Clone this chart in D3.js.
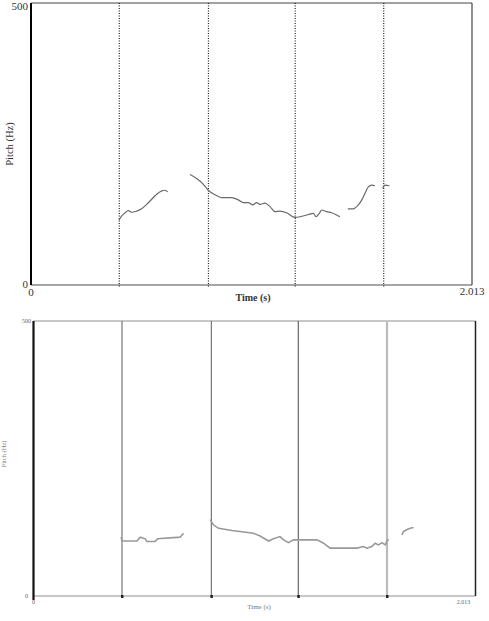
<!DOCTYPE html>
<html>
<head>
<meta charset="utf-8">
<script src="https://cdn.jsdelivr.net/npm/d3@7"></script>
<style>
  body { margin: 0; background: #fff; }
  svg text { font-family: "Liberation Serif", "DejaVu Serif", serif; }
</style>
</head>
<body>
<div id="chart"></div>
<script>
const W = 489, H = 621;
const tMax = 2.013, pMax = 500;

// segment boundaries (s)
const boundaries = [0.403, 0.810, 1.206, 1.610];

// top panel: smooth pitch contour, one array per voiced stretch
const topTimes = [
  [0.402, 0.406, 0.429, 0.444, 0.460, 0.482, 0.505, 0.528, 0.551, 0.574, 0.597, 0.612, 0.624],
  [0.726, 0.756, 0.786, 0.809, 0.840, 0.870, 0.916, 0.946, 0.969, 0.992, 1.012, 1.030, 1.045, 1.068, 1.091,
   1.114, 1.137, 1.167, 1.205, 1.228, 1.266, 1.289, 1.301, 1.316, 1.327, 1.350, 1.373, 1.395, 1.410],
  [1.446, 1.471, 1.494, 1.510, 1.525, 1.540, 1.555, 1.570],
  [1.605, 1.616, 1.636]
];
const topPitch = [
  [115, 118, 128, 132, 129, 131, 135, 143, 152, 161, 167, 168, 165],
  [196, 189, 179, 168, 160, 155, 155, 151, 146, 146, 142, 146, 143, 145, 139,
   130, 131, 128, 120, 121, 125, 127, 121, 127, 133, 130, 128, 124, 121],
  [135, 135, 142, 151, 163, 174, 177, 176],
  [171, 177, 176]
];

// bottom panel: stepped (quantised) pitch track
const botTimes = [
  [0.399, 0.403, 0.471, 0.486, 0.509, 0.516, 0.554, 0.565, 0.668, 0.683],
  [0.805, 0.820, 0.843, 0.904, 1.002, 1.032, 1.070, 1.093, 1.123, 1.139, 1.161, 1.184, 1.291, 1.321, 1.351,
   1.473, 1.503, 1.518, 1.541, 1.556, 1.571, 1.587, 1.602, 1.609, 1.617],
  [1.678, 1.685, 1.701, 1.723, 1.731]
];
const botPitch = [
  [107, 100, 100, 107, 104, 99, 99, 104, 107, 114],
  [139, 129, 123, 119, 114, 109, 100, 104, 108, 102, 97, 102, 102, 96, 87,
   87, 90, 87, 90, 96, 93, 97, 93, 99, 103],
  [111, 117, 121, 124, 124]
];

const svg = d3.select("#chart").append("svg")
  .attr("width", W).attr("height", H);

function toPoints(ts, ps) {
  return ts.map((seg, i) => seg.map((t, j) => [t, ps[i][j]]));
}

// ---------- top panel ----------
const x1 = d3.scaleLinear().domain([0, tMax]).range([31, 472]);
const y1 = d3.scaleLinear().domain([0, pMax]).range([285, 3]);
const g1 = svg.append("g");

g1.append("line").attr("x1", x1(0)).attr("x2", x1(tMax)).attr("y1", y1(pMax)).attr("y2", y1(pMax))
  .attr("stroke", "#444").attr("stroke-width", 1.2);
g1.append("line").attr("x1", x1(0)).attr("x2", x1(tMax)).attr("y1", y1(0)).attr("y2", y1(0))
  .attr("stroke", "#888").attr("stroke-width", 1.5);
g1.append("line").attr("x1", x1(tMax)).attr("x2", x1(tMax)).attr("y1", y1(pMax)).attr("y2", y1(0))
  .attr("stroke", "#444").attr("stroke-width", 1.2);
g1.append("line").attr("x1", x1(0)).attr("x2", x1(0)).attr("y1", y1(pMax)).attr("y2", y1(0))
  .attr("stroke", "#000").attr("stroke-width", 2);

g1.selectAll("line.bd").data(boundaries).enter().append("line")
  .attr("class", "bd")
  .attr("x1", d => x1(d)).attr("x2", d => x1(d))
  .attr("y1", y1(pMax)).attr("y2", y1(0) + 2)
  .attr("stroke", "#222").attr("stroke-width", 1.2)
  .attr("stroke-dasharray", "1,1.5");

const line1 = d3.line().x(d => x1(d[0])).y(d => y1(d[1])).curve(d3.curveMonotoneX);
g1.selectAll("path.pitch").data(toPoints(topTimes, topPitch)).enter().append("path")
  .attr("class", "pitch")
  .attr("d", line1)
  .attr("fill", "none").attr("stroke", "#6a6a6a").attr("stroke-width", 1.2);

g1.append("text").attr("x", 28).attr("y", y1(pMax) + 7).attr("text-anchor", "end")
  .attr("font-size", 11).attr("fill", "#333").text("500");
g1.append("text").attr("x", 28).attr("y", y1(0) + 3).attr("text-anchor", "end")
  .attr("font-size", 11).attr("fill", "#333").text("0");
g1.append("text").attr("x", x1(0)).attr("y", y1(0) + 11).attr("text-anchor", "middle")
  .attr("font-size", 11).attr("fill", "#333").text("0");
g1.append("text").attr("x", x1(tMax)).attr("y", y1(0) + 10).attr("text-anchor", "middle")
  .attr("font-size", 11).attr("fill", "#333").text("2.013");
g1.append("text").attr("x", 253).attr("y", 301).attr("text-anchor", "middle")
  .attr("font-size", 10).attr("font-weight", "bold").attr("fill", "#333").text("Time (s)");
g1.append("text").attr("transform", "translate(13,144) rotate(-90)").attr("text-anchor", "middle")
  .attr("font-size", 10.5).attr("fill", "#333").text("Pitch (Hz)");

// ---------- bottom panel ----------
const x2 = d3.scaleLinear().domain([0, tMax]).range([33.5, 475.5]);
const y2 = d3.scaleLinear().domain([0, pMax]).range([596, 321]);
const g2 = svg.append("g");

g2.append("line").attr("x1", x2(0)).attr("x2", x2(tMax)).attr("y1", y2(pMax)).attr("y2", y2(pMax))
  .attr("stroke", "#c8c8c8").attr("stroke-width", 2.2);
g2.append("line").attr("x1", x2(0)).attr("x2", x2(tMax)).attr("y1", y2(0)).attr("y2", y2(0))
  .attr("stroke", "#c8c8c8").attr("stroke-width", 2.2);

const bdStyle = [
  { c: "#777", w: 1.2 }, { c: "#777", w: 1.2 }, { c: "#666", w: 1.2 }, { c: "#bbb", w: 2.2 }
];
g2.selectAll("line.bd").data(boundaries).enter().append("line")
  .attr("class", "bd")
  .attr("x1", d => x2(d)).attr("x2", d => x2(d))
  .attr("y1", y2(pMax)).attr("y2", y2(0))
  .attr("stroke", (d, i) => bdStyle[i].c).attr("stroke-width", (d, i) => bdStyle[i].w);
g2.selectAll("rect.tick").data(boundaries).enter().append("rect")
  .attr("class", "tick")
  .attr("x", d => x2(d) - 1).attr("y", y2(0) - 1).attr("width", 2.5).attr("height", 3)
  .attr("fill", "#222");

g2.append("line").attr("x1", x2(0)).attr("x2", x2(0)).attr("y1", y2(pMax)).attr("y2", y2(0) + 4)
  .attr("stroke", "#111").attr("stroke-width", 2.2);
g2.append("line").attr("x1", x2(tMax)).attr("x2", x2(tMax)).attr("y1", y2(pMax)).attr("y2", y2(0))
  .attr("stroke", "#222").attr("stroke-width", 1.5);

const line2 = d3.line().x(d => x2(d[0])).y(d => y2(d[1]));
g2.selectAll("path.pitch").data(toPoints(botTimes, botPitch)).enter().append("path")
  .attr("class", "pitch")
  .attr("d", line2)
  .attr("fill", "none").attr("stroke", "#999").attr("stroke-width", 1.6);

g2.append("text").attr("x", 31).attr("y", y2(pMax) + 2).attr("text-anchor", "end")
  .attr("font-size", 6).attr("fill", "#666").text("500");
g2.append("text").attr("x", 28).attr("y", y2(0) + 2).attr("text-anchor", "end")
  .attr("font-size", 6).attr("fill", "#666").text("0");
g2.append("text").attr("x", x2(0)).attr("y", y2(0) + 8).attr("text-anchor", "middle")
  .attr("font-size", 6).attr("fill", "#666").text("0");
g2.append("text").attr("x", x2(tMax) - 12).attr("y", y2(0) + 8).attr("text-anchor", "middle")
  .attr("font-size", 6).attr("fill", "#666").text("2.013");
g2.append("text").attr("x", 259).attr("y", 609).attr("text-anchor", "middle")
  .attr("font-size", 7).attr("fill", "#777").text("Time (s)");
g2.append("text").attr("transform", "translate(6,454) rotate(-90)").attr("text-anchor", "middle")
  .attr("font-size", 6.5).attr("fill", "#777").text("Pitch (Hz)");
</script>
</body>
</html>
